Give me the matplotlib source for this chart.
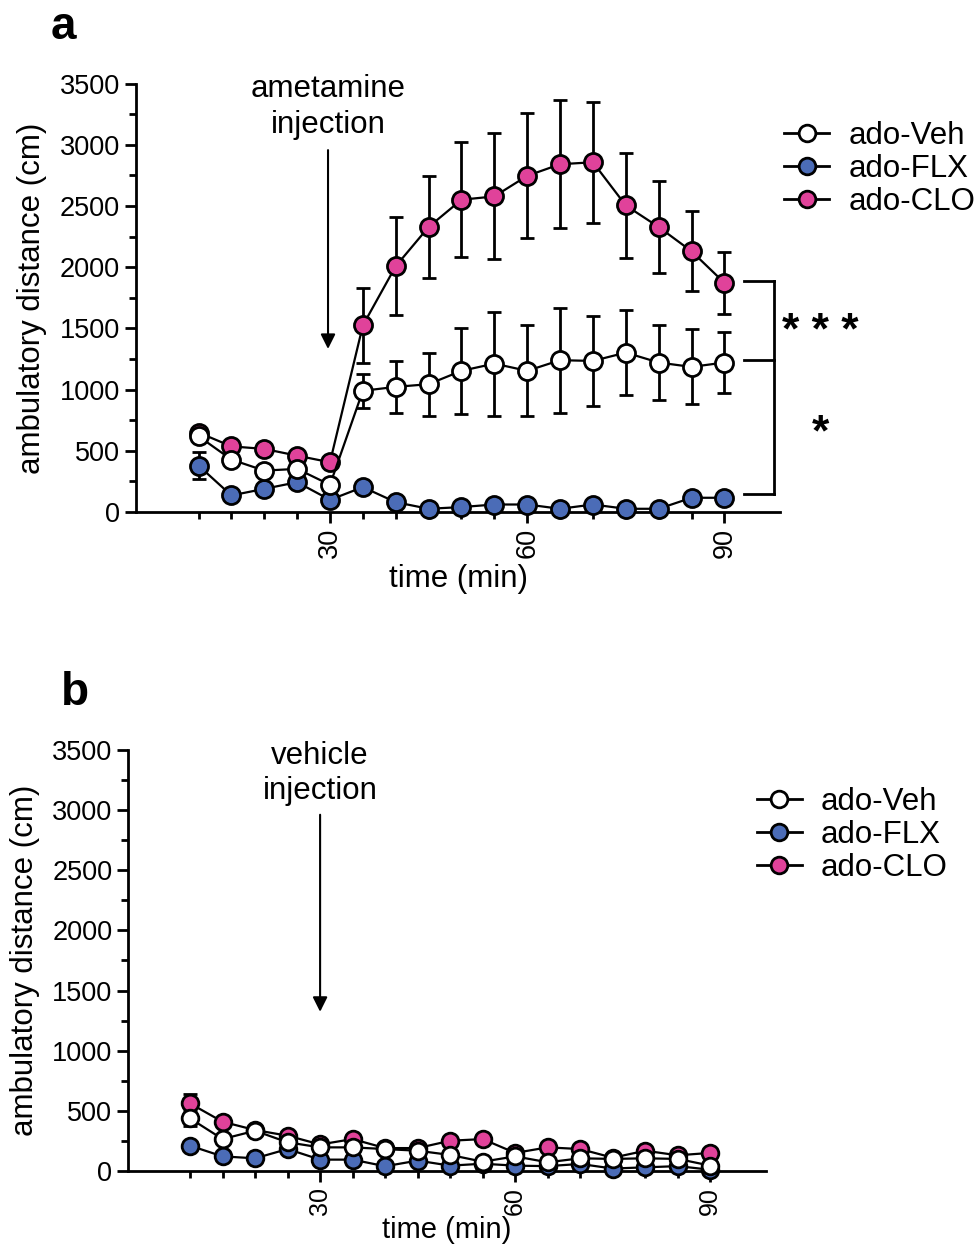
import numpy as np
import matplotlib.pyplot as plt
from matplotlib.ticker import MultipleLocator, FixedLocator
from matplotlib.lines import Line2D

plt.rcParams['font.family'] = ['Liberation Sans', 'DejaVu Sans']

# time points (min)
time = [10, 15, 20, 25, 30, 35, 40, 45, 50, 55, 60, 65, 70, 75, 80, 85, 90]

# panel a: amphetamine injection
a_veh = [620, 429, 339, 353, 223, 991, 1023, 1045, 1154, 1213, 1154, 1241, 1235, 1303, 1222, 1186, 1222]
a_veh_err = [40, 40, 40, 40, 40, 141, 212, 258, 353, 424, 371, 428, 367, 347, 303, 307, 252]
a_flx = [380, 136, 190, 244, 100, 204, 81, 27, 41, 62, 62, 27, 62, 27, 27, 117, 117]
a_flx_err = [110, 30, 30, 30, 30, 30, 20, 20, 20, 20, 20, 20, 20, 20, 20, 20, 20]
a_clo = [650, 537, 516, 461, 407, 1525, 2009, 2329, 2552, 2579, 2747, 2842, 2858, 2505, 2329, 2131, 1873]
a_clo_err = [40, 40, 40, 40, 40, 307, 400, 418, 469, 515, 510, 524, 494, 427, 372, 326, 252]

# panel b: vehicle injection
b_veh = [437, 265, 334, 238, 196, 196, 182, 168, 133, 77, 121, 72, 105, 100, 105, 100, 44]
b_veh_err = [60, 30, 30, 30, 25, 25, 25, 25, 25, 25, 25, 25, 25, 25, 25, 25, 25]
b_flx = [210, 121, 105, 182, 94, 94, 39, 86, 44, 60, 44, 40, 58, 20, 30, 40, 10]
b_flx_err = [30, 25, 25, 25, 20, 20, 20, 20, 20, 20, 20, 20, 20, 20, 20, 20, 20]
b_clo = [561, 409, 340, 293, 220, 265, 190, 190, 251, 265, 150, 196, 182, 110, 168, 130, 150]
b_clo_err = [80, 30, 30, 30, 25, 25, 25, 25, 25, 25, 25, 25, 25, 25, 25, 25, 25]

labels = ["ado-Veh", "ado-FLX", "ado-CLO"]
colors = ["white", "#4b6cb7", "#e0429a"]
TICK_FS = 19.5
FS = 22.5


def draw_panel(ax, series, errs, ms, xpad, xtick_fs, xlab_fs):
    # white on top, pink and blue below
    order = [1, 2, 0]
    for z, i in enumerate(order):
        ax.errorbar(time, series[i], yerr=errs[i], color="black", lw=1.6,
                    elinewidth=2, capsize=5, capthick=2, marker="o", ms=ms,
                    mfc=colors[i], mec="black", mew=2, zorder=3 + z,
                    clip_on=False)
    ax.set_xlim(0.5, 98.5)
    ax.set_ylim(0, 3500)
    ax.spines["top"].set_visible(False)
    ax.spines["right"].set_visible(False)
    for s in ["left", "bottom"]:
        ax.spines[s].set_linewidth(2)
    ax.yaxis.set_major_locator(MultipleLocator(500))
    ax.yaxis.set_minor_locator(MultipleLocator(250))
    ax.xaxis.set_major_locator(FixedLocator([30, 60, 90]))
    ax.xaxis.set_minor_locator(FixedLocator(time))
    ax.tick_params(which="major", length=8, width=2, labelsize=TICK_FS)
    ax.tick_params(which="minor", length=5, width=2)
    ax.tick_params(axis="x", labelrotation=90, labelsize=xtick_fs)
    ax.set_xlabel("time (min)", fontsize=xlab_fs, labelpad=xpad)
    ax.set_ylabel("ambulatory distance (cm)", fontsize=FS, labelpad=9)


def add_legend(ax, x, y, ms):
    handles = [Line2D([], [], color="black", lw=2, marker="o", ms=ms,
                      mfc=c, mec="black", mew=2) for c in colors]
    ax.legend(handles, labels, loc="upper left", bbox_to_anchor=(x, y),
              bbox_transform=fig.transFigure, frameon=False, fontsize=FS,
              handlelength=1.45, handletextpad=0.6, labelspacing=0.1,
              borderpad=0, borderaxespad=0, numpoints=1)


fig = plt.figure(figsize=(9.79, 12.49), dpi=100)
ax1 = fig.add_axes([0.139, 0.590, 0.658, 0.343])
ax2 = fig.add_axes([0.131, 0.0625, 0.651, 0.337])

draw_panel(ax1, [a_veh, a_flx, a_clo], [a_veh_err, a_flx_err, a_clo_err], 13, 4, TICK_FS, FS)
draw_panel(ax2, [b_veh, b_flx, b_clo], [b_veh_err, b_flx_err, b_clo_err], 12, 1, 18, 21)

add_legend(ax1, 0.801, 0.903, 12)
add_legend(ax2, 0.773, 0.370, 12)

# injection arrows
ax1.annotate("", xy=(29.7, 1310), xytext=(29.7, 2980),
             arrowprops=dict(arrowstyle="-|>", color="black", lw=1.5,
                             mutation_scale=22))
ax1.text(29.7, 3310, "ametamine\ninjection", ha="center", va="center",
         fontsize=FS, linespacing=1.25)
ax2.annotate("", xy=(30, 1300), xytext=(30, 2985),
             arrowprops=dict(arrowstyle="-|>", color="black", lw=1.5,
                             mutation_scale=22))
ax2.text(30, 3305, "vehicle\ninjection", ha="center", va="center",
         fontsize=FS, linespacing=1.25)

# significance brackets
yb = [1889, 1243, 147]
for y in yb:
    ax1.plot([93.0, 97.6], [y, y], color="black", lw=2, clip_on=False)
ax1.plot([97.6, 97.6], [yb[0], yb[2]], color="black", lw=2, clip_on=False)
ax1.text(104.6, 1470, "* * *", ha="center", va="center", fontsize=32,
         fontweight="bold")
ax1.text(104.6, 640, "*", ha="center", va="center", fontsize=32,
         fontweight="bold")

fig.text(0.052, 0.978, "a", fontsize=33, fontweight="bold", va="center")
fig.text(0.062, 0.445, "b", fontsize=33, fontweight="bold", va="center")

fig.savefig("out.png", dpi=100)
plt.close()
